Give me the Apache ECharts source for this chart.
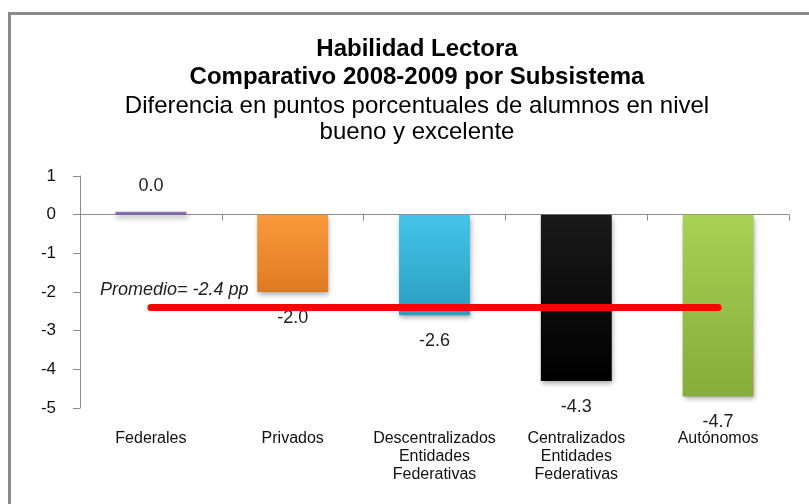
<!DOCTYPE html>
<html>
<head>
<meta charset="utf-8">
<script src="https://cdn.jsdelivr.net/npm/echarts@6/dist/echarts.min.js"></script>
<style>
  html, body { margin: 0; padding: 0; background: #fff; }
  #main { width: 809px; height: 504px; }
</style>
</head>
<body>
<div id="main"></div>
<script>
var categorias = ['Federales', 'Privados', 'Descentralizados\nEntidades\nFederativas', 'Centralizados\nEntidades\nFederativas', 'Autónomos'];
var diferencias = [0.04, -2.0, -2.6, -4.3, -4.7];
var promedio = -2.4;
var colores = [
  ['#9a80bd', '#7459a0'],
  ['#fa9a3c', '#e07a22'],
  ['#45c4e8', '#2a9ec0'],
  ['#1a1a1a', '#000000'],
  ['#a8d155', '#86ac3b']
];

var myChart = echarts.init(document.getElementById('main'));

var barras = diferencias.map(function (v, i) {
  return {
    value: v,
    itemStyle: {
      color: new echarts.graphic.LinearGradient(0, 0, 0, 1, [
        { offset: 0, color: colores[i][0] },
        { offset: 1, color: colores[i][1] }
      ])
    }
  };
});

myChart.setOption({
  animation: false,
  title: {
    text: 'Habilidad Lectora\nComparativo 2008-2009 por Subsistema',
    subtext: 'Diferencia en puntos porcentuales de alumnos en nivel\nbueno y excelente',
    left: 412,
    top: 30,
    textAlign: 'center',
    itemGap: 2,
    textStyle: {
      fontFamily: 'Liberation Sans',
      fontWeight: 'bold',
      fontSize: 24,
      lineHeight: 28,
      color: '#000'
    },
    subtextStyle: {
      fontFamily: 'Liberation Sans',
      fontSize: 24,
      lineHeight: 26,
      color: '#000'
    }
  },
  graphic: [
    {
      type: 'rect',
      shape: { x: 9.5, y: 13.5, width: 900, height: 600 },
      style: { fill: 'none', stroke: '#8a8a8a', lineWidth: 3 },
      silent: true
    },
    {
      type: 'text',
      left: 100,
      top: 281,
      style: {
        text: 'Promedio= -2.4 pp',
        fontFamily: 'Liberation Sans',
        fontStyle: 'italic',
        fontSize: 18,
        fill: '#222'
      }
    }
  ],
  grid: { left: 80, right: 20, top: 176, bottom: 96 },
  xAxis: [
    {
      type: 'category',
      data: categorias,
      position: 'bottom',
      axisLine: { show: false, onZero: false },
      axisTick: { show: false },
      axisLabel: {
        margin: 22,
        fontFamily: 'Liberation Sans',
        fontSize: 16,
        lineHeight: 18,
        color: '#111',
        interval: 0
      }
    },
    {
      type: 'category',
      data: categorias,
      position: 'top',
      axisLine: { show: true, onZero: true, lineStyle: { color: '#8c8c8c', width: 1 } },
      axisTick: { show: true, length: 6, inside: true, lineStyle: { color: '#8c8c8c' } },
      axisLabel: { show: false }
    }
  ],
  yAxis: {
    type: 'value',
    min: -5,
    max: 1,
    interval: 1,
    axisLine: { show: true, lineStyle: { color: '#8c8c8c' } },
    axisTick: { show: true, length: 7, lineStyle: { color: '#8c8c8c' } },
    splitLine: { show: false },
    axisLabel: {
      margin: 24,
      fontFamily: 'Liberation Sans',
      fontSize: 17,
      color: '#111'
    }
  },
  series: [
    {
      type: 'bar',
      xAxisIndex: 0,
      data: barras,
      barWidth: '50%',
      barMinHeight: 3,
      itemStyle: {
        shadowColor: 'rgba(0,0,0,0.35)',
        shadowBlur: 5,
        shadowOffsetY: 3,
        shadowOffsetX: 1
      },
      label: {
        show: true,
        position: 'outside',
        distance: 17,
        fontFamily: 'Liberation Sans',
        fontSize: 18,
        color: '#222',
        formatter: function (p) { return p.value.toFixed(1); }
      },
      markLine: {
        silent: true,
        symbol: 'none',
        label: { show: false },
        lineStyle: { color: '#ff0000', width: 7, type: 'solid', cap: 'round' },
        data: [[
          { coord: [categorias[0], promedio] },
          { coord: [categorias[4], promedio] }
        ]]
      }
    }
  ]
});
</script>
</body>
</html>
